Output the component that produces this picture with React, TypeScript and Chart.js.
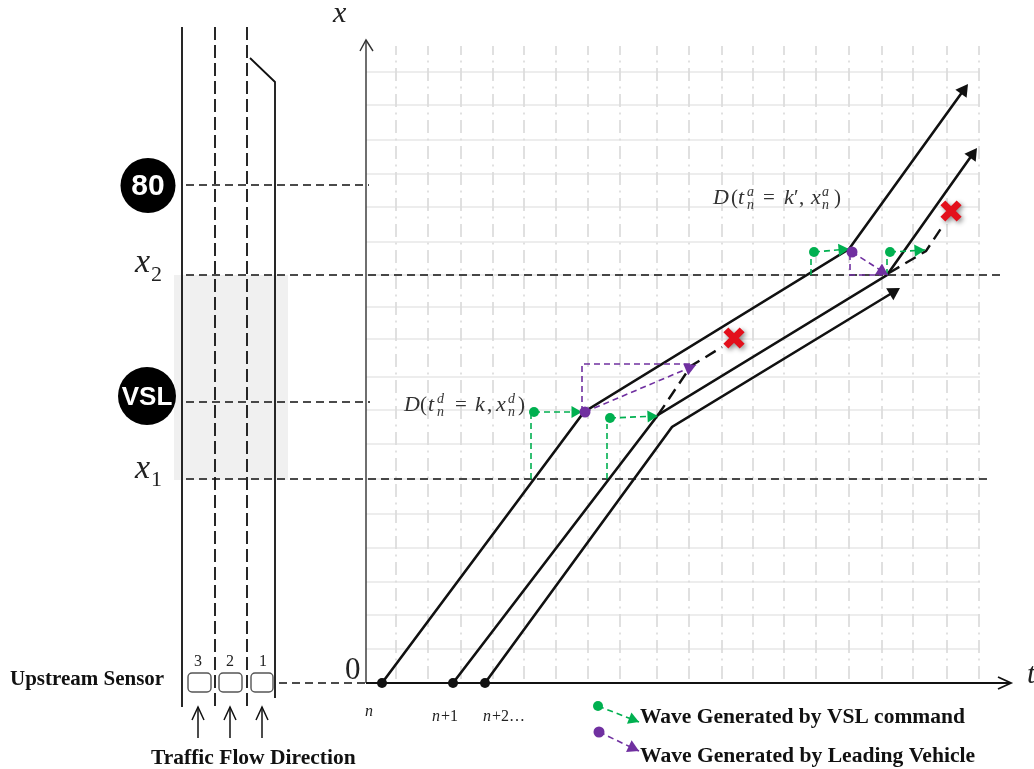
import React, { useEffect, useRef } from "react";
import { Chart, registerables } from "chart.js";

Chart.register(...registerables);

type P = [number, number];

// Grid positions (drawing units)
const gridColumns = [396, 428, 461, 493, 524, 556, 588, 620, 657, 689, 722, 753, 784, 816, 849, 882, 913, 947, 979];
const gridRows = [72, 105, 140, 174, 207, 242, 275, 307, 339, 377, 410, 444, 479, 514, 548, 582, 615, 649];

// Road layout
const roadLeftEdge: P[] = [[182, 27], [182, 707]];
const roadLaneA: P[] = [[215, 27], [215, 706]];
const roadLaneB: P[] = [[247, 27], [247, 706]];
const roadRightEdge: P[] = [[250, 58], [275, 82], [275, 698]];
const controlZone: P[] = [[174, 275], [288, 275]];
const controlZoneBottom = 480;

// Reference levels
const levelSign80: P[] = [[186, 185], [369, 185]];
const levelX2: P[] = [[186, 275], [1003, 275]];
const levelVsl: P[] = [[186, 402], [370, 402]];
const levelX1: P[] = [[186, 479], [989, 479]];
const levelSensor: P[] = [[279, 683], [366, 683]];

// Axes
const axisX: P[] = [[366, 40], [366, 683]];
const axisXHead: P[] = [[360, 51], [366, 40], [373, 51]];
const axisT: P[] = [[366, 683], [1010, 683]];
const axisTHead: P[] = [[998, 677], [1011, 683], [998, 689]];

// Vehicle trajectories
const vehicleN: P[] = [[382, 683], [584, 412], [849, 249], [963, 91]];
const vehicleN1: P[] = [[453, 683], [658, 415], [887, 275], [972, 155]];
const vehicleN2: P[] = [[485, 683], [672, 427], [892, 293]];
const headN: [P, P] = [[849, 249], [968, 84]];
const headN1: [P, P] = [[887, 275], [977, 148]];
const headN2: [P, P] = [[672, 427], [900, 288]];
const ghostA: P[] = [[658, 415], [691, 366], [722, 347]];
const ghostB: P[] = [[889, 273], [926, 251], [944, 224]];
const vehicleStarts: P[] = [[382, 683], [453, 683], [485, 683]];
const conflicts: P[] = [[734, 338], [951, 211]];

// VSL command waves
const greenRisers: P[][] = [
  [[531, 479], [531, 415]],
  [[607, 479], [607, 424]],
  [[811, 275], [811, 256]],
  [[887, 275], [887, 256]],
];
const greenWaves: [P, P][] = [
  [[534, 412], [582, 412]],
  [[610, 418], [658, 416]],
  [[814, 252], [849, 249]],
  [[890, 252], [925, 250]],
];

// Leading vehicle waves
const purpleGuides: P[][] = [
  [[582, 412], [582, 364], [690, 364]],
  [[850, 254], [850, 275], [882, 275]],
];
const purpleWaves: [P, P][] = [
  [[585, 412], [696, 365]],
  [[852, 252], [888, 275]],
];

// Legend keys
const legendGreen: [P, P] = [[598, 706], [639, 722]];
const legendPurple: [P, P] = [[599, 732], [639, 751]];

// Lane sensors and arrows
const sensorBoxes: [number, number, number, number][] = [[188, 673, 211, 692], [219, 673, 242, 692], [251, 673, 273, 692]];
const flowArrowColumns = [198, 230, 262];

// Badges
const badge80: P = [148, 185.5];
const badgeVsl: P = [147, 396];

// Text: string, x, baseline
type T = [string, number, number];
const boldLabels: (T & any)[] = [
  ["Upstream Sensor", 10, 685, 21],
  ["Traffic Flow Direction", 151, 764, 21.5],
  ["Wave Generated by VSL command", 640, 723, 21.5],
  ["Wave Generated by Leading Vehicle", 640, 762, 21.6],
];
const axisLetters: T[] = [["x", 333, 22], ["t", 1027, 683]];
const levelLetters: T[] = [["x", 135, 272], ["x", 135, 478]];
const levelIndices: T[] = [["2", 151, 281], ["1", 151, 486]];
const zeroLabel: T[] = [["0", 345, 679]];
const laneNumbers: T[] = [["3", 194, 666], ["2", 226, 666], ["1", 259, 666]];
const tickItalic: T[] = [["n", 365, 716], ["n", 432, 721], ["n", 483, 721]];
const tickPlain: T[] = [["+1", 441, 721], ["+2…", 492, 721]];
const mathItalic: T[] = [
  ["D", 404, 411], ["t", 428, 411], ["k", 475, 411], ["x", 496, 411],
  ["D", 713, 204], ["t", 738, 204], ["k", 784, 204], ["x", 811, 204],
];
const mathPlain: T[] = [
  ["(", 420, 411], ["=", 455, 411], [",", 487, 411], [")", 518, 411],
  ["(", 731, 204], ["=", 763, 204], ["′", 794, 204], [",", 799, 204], [")", 834, 204],
];
const mathSup: T[] = [["d", 437, 403], ["d", 508, 403], ["a", 747, 196], ["a", 822, 196]];
const mathSub: T[] = [["n", 437, 416], ["n", 508, 416], ["n", 747, 209], ["n", 822, 209]];
const badgeTexts: (T & any)[] = [["80", 148, 195, 30], ["VSL", 147, 405, 26]];

const BLACK = "#111111";
const GREEN = "#00b050";
const PURPLE = "#7030a0";
const pts = (a: P[]) => a.map(([x, y]) => ({ x, y }));

const line = (a: P[], color: string, width: number, dash: number[] = [], offset = 0) => ({
  data: pts(a),
  showLine: true,
  pointRadius: 0,
  borderColor: color,
  borderWidth: width,
  borderDash: dash,
  borderDashOffset: offset,
  tension: 0,
  fill: false,
  clip: false,
});

const dots = (a: P[], color: string, r: number, extra: any = {}) => ({
  data: pts(a),
  showLine: false,
  pointRadius: r,
  pointBackgroundColor: color,
  pointBorderColor: color,
  pointBorderWidth: 0,
  clip: false,
  ...extra,
});

const head = ([from, to]: [P, P], color: string, r: number) => {
  const dx = to[0] - from[0];
  const dy = to[1] - from[1];
  const len = Math.hypot(dx, dy);
  const c: P = [to[0] - (dx / len) * r, to[1] - (dy / len) * r];
  return dots([c], color, r, { pointStyle: "triangle", pointRotation: (Math.atan2(dx, -dy) * 180) / Math.PI });
};

const wave = (seg: [P, P], color: string, dotR: number, headR: number) => [
  line(seg, color, 1.6, [6, 4]),
  head(seg, color, headR),
  dots([seg[0]], color, dotR),
];

function buildDatasets() {
  const columnGrid: any[] = [];
  gridColumns.forEach((x) => columnGrid.push({ x, y: 46 }, { x, y: 680 }, { x: NaN, y: NaN }));
  const rowGrid: any[] = [];
  gridRows.forEach((y) => rowGrid.push({ x: 366, y }, { x: 980, y }, { x: NaN, y: NaN }));

  const back: any[] = [
    { ...line(controlZone, "#f0f0f0", 0), fill: { value: controlZoneBottom }, backgroundColor: "#f0f0f0", borderWidth: 0 },
    { ...line([], "#e8e8e8", 1.3), data: rowGrid, spanGaps: false },
    { ...line([], "#dddddd", 1.8, [13, 5.5, 2, 5.5], 4), data: columnGrid, spanGaps: false },
    line(axisX, "#333333", 1.4),
    line(axisXHead, "#333333", 1.4),
    line(roadLeftEdge, BLACK, 1.8),
    line(roadLaneA, BLACK, 1.8, [13, 5]),
    line(roadLaneB, BLACK, 1.8, [13, 5]),
    line(roadRightEdge, BLACK, 1.8),
    line(levelSign80, BLACK, 1.5, [8, 5]),
    line(levelX2, BLACK, 1.5, [8, 5]),
    line(levelVsl, BLACK, 1.5, [8, 5]),
    line(levelX1, BLACK, 1.5, [8, 5]),
    line(levelSensor, BLACK, 1.5, [8, 5]),
    line(axisT, BLACK, 1.8),
    line(axisTHead, BLACK, 1.8),
    line(vehicleN, BLACK, 2.6),
    head(headN, BLACK, 8),
    line(vehicleN1, BLACK, 2.6),
    head(headN1, BLACK, 8),
    line(vehicleN2, BLACK, 2.6),
    head(headN2, BLACK, 8),
    line(ghostA, BLACK, 2.4, [12, 7]),
    line(ghostB, BLACK, 2.4, [12, 7]),
    dots(vehicleStarts, BLACK, 5),
    dots(conflicts, "#e3101c", 11.5, {
      pointStyle: "crossRot",
      pointBorderWidth: 7,
      pointBorderColor: "#e3101c",
      shadowed: true,
    }),
    ...greenRisers.map((r) => line(r, GREEN, 1.6, [6, 4])),
    ...purpleGuides.map((r) => line(r, PURPLE, 1.6, [6, 4])),
    ...greenWaves.flatMap((s) => wave(s, GREEN, 5, 7)),
    ...purpleWaves.flatMap((s) => wave(s, PURPLE, 5.5, 7.5)),
    ...wave(legendGreen, GREEN, 5, 7),
    ...wave(legendPurple, PURPLE, 5.5, 7.5),
    dots([badge80], "#000000", 27.5),
    dots([badgeVsl], "#000000", 29),
    ...flowArrowColumns.flatMap((x) => [
      line([[x, 738], [x, 707]], BLACK, 1.5),
      line([[x - 6, 720], [x, 707], [x + 6, 720]], BLACK, 1.5),
    ]),
  ];
  // Chart.js paints the first dataset last, so list front to back.
  return back.reverse();
}

const drawing = {
  id: "drawing",
  beforeDatasetDraw(chart: any, args: any) {
    const ds = chart.data.datasets[args.index];
    if (ds.shadowed) {
      const c = chart.ctx;
      c.save();
      c.shadowColor = "rgba(0,0,0,0.45)";
      c.shadowBlur = 5;
      c.shadowOffsetX = 2;
      c.shadowOffsetY = 2;
    }
  },
  afterDatasetDraw(chart: any, args: any) {
    if (chart.data.datasets[args.index].shadowed) chart.ctx.restore();
  },
  afterDatasetsDraw(chart: any) {
    const c: CanvasRenderingContext2D = chart.ctx;
    const sx = chart.scales.x;
    const sy = chart.scales.y;
    const px = (v: number) => sx.getPixelForValue(v);
    const py = (v: number) => sy.getPixelForValue(v);
    c.save();
    c.textBaseline = "alphabetic";

    const serif = '"Liberation Serif", serif';
    const put = (items: T[], font: string, color: string, align: CanvasTextAlign = "left") => {
      c.font = font;
      c.fillStyle = color;
      c.textAlign = align;
      items.forEach(([s, x, y]) => c.fillText(s, px(x), py(y)));
    };

    boldLabels.forEach(([s, x, y, size]: any) => put([[s, x, y]], `bold ${size}px ${serif}`, "#111111"));
    put(axisLetters, `italic 30px ${serif}`, "#222222");
    put(levelLetters, `italic 34px ${serif}`, "#222222");
    put(levelIndices, `22px ${serif}`, "#222222");
    put(zeroLabel, `31px ${serif}`, "#222222");
    put(laneNumbers, `16px ${serif}`, "#222222");
    put(tickItalic, `italic 16px ${serif}`, "#222222");
    put(tickPlain, `16px ${serif}`, "#222222");
    put(mathItalic, `italic 22px ${serif}`, "#333333");
    put(mathPlain, `21px ${serif}`, "#333333");
    put(mathSup, `italic 14px ${serif}`, "#333333");
    put(mathSub, `italic 14px ${serif}`, "#333333");
    badgeTexts.forEach(([s, x, y, size]: any) =>
      put([[s, x, y]], `bold ${size}px "Liberation Sans", sans-serif`, "#ffffff", "center")
    );

    c.strokeStyle = "#555555";
    c.lineWidth = 1.4;
    sensorBoxes.forEach(([x0, y0, x1, y1]) => {
      c.beginPath();
      c.roundRect(px(x0), py(y0), px(x1) - px(x0), py(y1) - py(y0), 4);
      c.stroke();
    });
    c.restore();
  },
};

export default function App() {
  const ref = useRef<HTMLCanvasElement>(null);
  useEffect(() => {
    const chart = new Chart(ref.current as HTMLCanvasElement, {
      type: "scatter",
      data: { datasets: buildDatasets() as any },
      options: {
        animation: false,
        responsive: false,
        events: [],
        layout: { padding: 0, autoPadding: false },
        plugins: { legend: { display: false }, tooltip: { enabled: false }, title: { display: false } },
        scales: {
          x: { type: "linear", min: 0, max: 1034, display: false },
          y: { type: "linear", min: 0, max: 769, reverse: true, display: false },
        },
      },
      plugins: [drawing as any],
    });
    return () => chart.destroy();
  }, []);
  return (
    <div style={{ position: "absolute", left: 0, top: 0, width: 1034, height: 769, background: "#ffffff" }}>
      <canvas ref={ref} width={1034} height={769} style={{ display: "block" }} />
    </div>
  );
}
